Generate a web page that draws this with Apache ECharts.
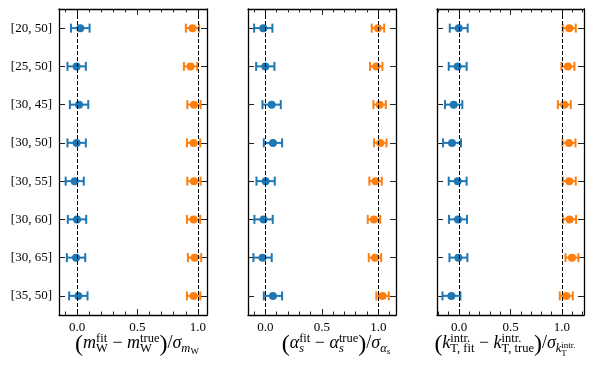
<!DOCTYPE html>
<html>
<head>
<meta charset="utf-8">
<script src="https://cdn.jsdelivr.net/npm/echarts@6/dist/echarts.min.js"></script>
<style>
  html, body { margin: 0; padding: 0; background: #fff; }
  #chart { width: 594px; height: 367px; }
</style>
</head>
<body>
<div id="chart"></div>
<script>
const fitRanges = ['[20, 50]', '[25, 50]', '[30, 45]', '[30, 50]', '[30, 55]', '[30, 60]', '[30, 65]', '[35, 50]']

// blue = nominal pulls, orange = shifted pulls
const mwNominal = [0.027, -0.003, 0.017, -0.003, -0.019, 0.0, -0.008, 0.011]
const mwNominalErr = [0.077, 0.076, 0.076, 0.076, 0.075, 0.076, 0.076, 0.076]
const mwShifted = [0.955, 0.939, 0.967, 0.964, 0.967, 0.964, 0.972, 0.964]
const mwShiftedErr = [0.055, 0.055, 0.055, 0.055, 0.055, 0.055, 0.055, 0.055]

const asNominal = [-0.018, 0.0, 0.056, 0.068, 0.003, -0.015, -0.024, 0.068]
const asNominalErr = [0.081, 0.081, 0.081, 0.081, 0.081, 0.081, 0.081, 0.081]
const asShifted = [0.997, 0.982, 1.012, 1.018, 0.976, 0.962, 0.971, 1.038]
const asShiftedErr = [0.055, 0.055, 0.055, 0.055, 0.055, 0.055, 0.055, 0.055]

const ktNominal = [-0.003, -0.013, -0.052, -0.068, -0.013, -0.01, -0.006, -0.074]
const ktNominalErr = [0.087, 0.087, 0.084, 0.087, 0.087, 0.087, 0.087, 0.087]
const ktShifted = [1.071, 1.058, 1.023, 1.068, 1.071, 1.074, 1.097, 1.042]
const ktShiftedErr = [0.063, 0.063, 0.063, 0.063, 0.063, 0.063, 0.063, 0.063]

const xTicks = [0, 0.5, 1]
const xMinorTicks = [-0.2, -0.1, 0.1, 0.2, 0.3, 0.4, 0.6, 0.7, 0.8, 0.9, 1.1, 1.2]
const refLines = [0, 1]

const BLUE = '#1f77b4'
const ORANGE = '#ff7f0e'
const FONT = '"Liberation Serif"'

const panels = [
  { left: 59, width: 148, min: -0.149, max: 1.075, labelCx: 137, nominal: mwNominal, nominalErr: mwNominalErr, shifted: mwShifted, shiftedErr: mwShiftedErr },
  { left: 248, width: 148, min: -0.153, max: 1.157, labelCx: 336, nominal: asNominal, nominalErr: asNominalErr, shifted: asShifted, shiftedErr: asShiftedErr },
  { left: 437, width: 147, min: -0.214, max: 1.214, labelCx: 505, nominal: ktNominal, nominalErr: ktNominalErr, shifted: ktShifted, shiftedErr: ktShiftedErr },
]
const TOP = 9
const HEIGHT = 306

const renderErrorBar = (params, api) => {
  const x = api.value(0)
  const row = api.value(1)
  const err = api.value(2)
  const lo = api.coord([x - err, row])
  const hi = api.coord([x + err, row])
  const cap = 4.5
  const style = { stroke: api.visual('color'), lineWidth: 2 }
  return {
    type: 'group',
    children: [
      { type: 'line', shape: { x1: lo[0], y1: lo[1], x2: hi[0], y2: hi[1] }, style },
      { type: 'line', shape: { x1: lo[0], y1: lo[1] - cap, x2: lo[0], y2: lo[1] + cap }, style },
      { type: 'line', shape: { x1: hi[0], y1: hi[1] - cap, x2: hi[0], y2: hi[1] + cap }, style },
    ],
  }
}

// --- math-ish axis titles, laid out piece by piece
const ctx = document.createElement('canvas').getContext('2d')
const fontOf = (p) => (p.it ? 'italic ' : '') + p.s + 'px ' + FONT
const widthOf = (p) => {
  ctx.font = fontOf(p)
  return ctx.measureText(p.t).width
}
const midShift = (p) => {
  ctx.font = fontOf(p)
  ctx.textBaseline = 'alphabetic'
  const a = ctx.measureText('H').actualBoundingBoxAscent
  ctx.textBaseline = 'middle'
  const b = ctx.measureText('H').actualBoundingBoxAscent
  ctx.textBaseline = 'alphabetic'
  return a - b
}
const B = 18
const S = 12.5
const SS = 9
const P = (t, s = B, dy = 0, it = false) => ({ t, s, dy, it })
const sup = (t, it = false) => P(t, S, 6.5, it)
const sub = (t, it = false) => P(t, S, -3.5, it)

const mathLabel = (boxes, cx, baseY) => {
  const widths = boxes.map((b) => (Array.isArray(b) ? Math.max(...b.map(widthOf)) : widthOf(b)))
  const total = widths.reduce((a, b) => a + b, 0)
  let x = cx - total / 2
  const out = []
  boxes.forEach((b, i) => {
    ;(Array.isArray(b) ? b : [b]).forEach((p) => {
      out.push({
        type: 'text',
        x: x,
        y: baseY - p.dy - midShift(p),
        silent: true,
        style: {
          text: p.t,
          fontSize: p.s,
          fontFamily: FONT,
          fontStyle: p.it ? 'italic' : 'normal',
          fill: '#000',
          align: 'left',
          verticalAlign: 'middle',
        },
      })
    })
    x += widths[i]
  })
  return out
}

const bigL = P('(', 24, -2.5)
const bigR = P(')', 24, -2.5)
const labelBoxes = [
  [
    bigL, P('m', B, 0, true), [sup('fit'), sub('W')], P(' \u2212 '),
    P('m', B, 0, true), [sup('true'), sub('W')], bigR, P('/'),
    P('\u03c3', B, 0, true), sub('m', true), P('W', SS, -6),
  ],
  [
    bigL, P('\u03b1', B, 0, true), [sup('fit'), sub('s', true)], P(' \u2212 '),
    P('\u03b1', B, 0, true), [sup('true'), sub('s', true)], bigR, P('/'),
    P('\u03c3', B, 0, true), sub('\u03b1', true), P('s', SS, -6, true),
  ],
  [
    bigL, P('k', B, 0, true), [sup('intr.'), sub('T, fit')], P(' \u2212 '),
    P('k', B, 0, true), [sup('intr.'), sub('T, true')], bigR, P('/'),
    P('\u03c3', B, 0, true), sub('k', true), [P('intr.', SS, 0.5), P('T', SS, -7.5)],
  ],
]

const chart = echarts.init(document.getElementById('chart'), null, { renderer: 'canvas' })

const grid = panels.map((p) => ({ left: p.left, top: TOP, width: p.width, height: HEIGHT }))
const xAxis = []
const yAxis = []
const series = []

panels.forEach((p, i) => {
  const inRange = (arr) => arr.filter((v) => v >= p.min && v <= p.max)
  const base = { type: 'value', gridIndex: i, min: p.min, max: p.max, splitLine: { show: false } }
  const line = { show: true, onZero: false, lineStyle: { color: '#000', width: 1.3 } }
  const noLine = { show: false, onZero: false }
  const tick = (len, vals) => ({ show: true, inside: true, length: len, customValues: vals, lineStyle: { color: '#222', width: 1 } })
  // bottom major, bottom minor, top major, top minor
  xAxis.push({
    ...base, position: 'bottom', axisLine: line, axisTick: tick(6, xTicks),
    axisLabel: { customValues: xTicks, formatter: (v) => v.toFixed(1), fontFamily: FONT, fontSize: 13, color: '#000', margin: 6 },
  })
  xAxis.push({ ...base, position: 'bottom', axisLine: noLine, axisLabel: { show: false }, axisTick: tick(3.5, inRange(xMinorTicks)) })
  xAxis.push({ ...base, position: 'top', axisLine: line, axisLabel: { show: false }, axisTick: tick(6, xTicks) })
  xAxis.push({ ...base, position: 'top', axisLine: noLine, axisLabel: { show: false }, axisTick: tick(3.5, inRange(xMinorTicks)) })
  const cat = {
    type: 'category', gridIndex: i, data: fitRanges, inverse: true, boundaryGap: true,
    axisLine: line, splitLine: { show: false },
    axisTick: { show: true, inside: true, alignWithLabel: true, length: 6, lineStyle: { color: '#222', width: 1 } },
  }
  yAxis.push({
    ...cat, position: 'left',
    axisLabel: { show: i === 0, fontFamily: FONT, fontSize: 13, color: '#000', margin: 7 },
  })
  yAxis.push({ ...cat, position: 'right', axisLabel: { show: false } })

  const xi = i * 4
  const yi = i * 2
  const pts = (vals, errs) => vals.map((v, k) => [v, k, errs[k]])
  series.push({
    type: 'custom', xAxisIndex: xi, yAxisIndex: yi, z: 2,
    itemStyle: { color: BLUE }, renderItem: renderErrorBar,
    encode: { x: 0, y: 1 }, data: pts(p.nominal, p.nominalErr),
    markLine: {
      silent: true, symbol: 'none', label: { show: false },
      lineStyle: { color: '#000', type: [4, 2], width: 1 },
      emphasis: { disabled: true },
      data: refLines.map((v) => ({ xAxis: v })),
      animation: false,
    },
  })
  series.push({
    type: 'custom', xAxisIndex: xi, yAxisIndex: yi, z: 2,
    itemStyle: { color: ORANGE }, renderItem: renderErrorBar,
    encode: { x: 0, y: 1 }, data: pts(p.shifted, p.shiftedErr),
  })
  series.push({
    type: 'scatter', xAxisIndex: xi, yAxisIndex: yi, z: 3, symbolSize: 8,
    itemStyle: { color: BLUE, opacity: 1 }, data: p.nominal.map((v, k) => [v, k]),
  })
  series.push({
    type: 'scatter', xAxisIndex: xi, yAxisIndex: yi, z: 3, symbolSize: 8,
    itemStyle: { color: ORANGE, opacity: 1 }, data: p.shifted.map((v, k) => [v, k]),
  })
})

chart.setOption({
  animation: false,
  backgroundColor: '#fff',
  grid,
  xAxis,
  yAxis,
  series,
  graphic: panels.flatMap((p, i) => mathLabel(labelBoxes[i], p.labelCx, 348)),
})
</script>
</body>
</html>
